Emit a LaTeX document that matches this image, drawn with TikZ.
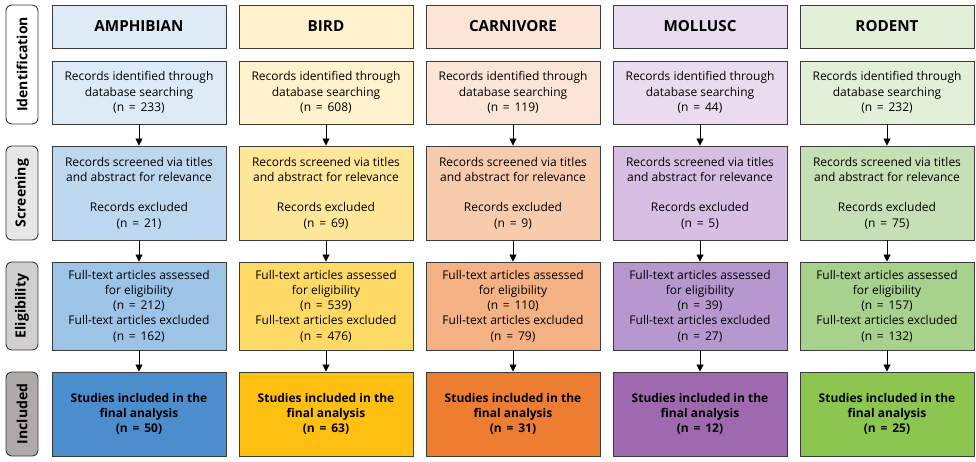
\documentclass[tikz,border=0pt]{standalone}
\usepackage{fontspec}
\setmainfont{Open Sans}
\usetikzlibrary{arrows.meta}
\newcommand{\nis}[1]{(n\hspace{0.4em}=\hspace{0.4em}#1)}
\definecolor{bordc}{HTML}{3A3A3A}
\definecolor{cA1}{HTML}{DDEBF7}\definecolor{cA2}{HTML}{BDD7EE}\definecolor{cA3}{HTML}{9DC3E6}\definecolor{cA4}{HTML}{4C8DCE}
\definecolor{cB1}{HTML}{FFF2CC}\definecolor{cB2}{HTML}{FFE699}\definecolor{cB3}{HTML}{FFD966}\definecolor{cB4}{HTML}{FDC010}
\definecolor{cC1}{HTML}{FBE5D6}\definecolor{cC2}{HTML}{F8CBAD}\definecolor{cC3}{HTML}{F4B183}\definecolor{cC4}{HTML}{ED7D31}
\definecolor{cD1}{HTML}{E9DCEF}\definecolor{cD2}{HTML}{D7BFE3}\definecolor{cD3}{HTML}{B698CE}\definecolor{cD4}{HTML}{9E69AE}
\definecolor{cE1}{HTML}{E2F0D9}\definecolor{cE2}{HTML}{C5E0B4}\definecolor{cE3}{HTML}{A9D18E}\definecolor{cE4}{HTML}{8DC551}
\definecolor{sd2}{HTML}{E7E6E6}\definecolor{sd3}{HTML}{D0CECE}\definecolor{sd4}{HTML}{AEAAAA}
\tikzset{
  box/.style={draw=bordc, line width=0.9pt, minimum width=174pt, inner sep=0pt, align=center, font=\fontsize{12}{15.3}\selectfont},
  hdr/.style={box, minimum height=43pt, font=\fontsize{15.2}{17}\selectfont\bfseries},
  incbox/.style={box, minimum height=84pt, font=\fontsize{12}{15.3}\selectfont\bfseries},
  side/.style={draw=bordc, line width=0.9pt, rounded corners=6pt, minimum height=32pt, inner sep=0pt, font=\fontsize{14}{16}\selectfont\bfseries, rotate=90},
  arr/.style={-{Triangle[length=7pt,width=7pt]}, line width=0.8pt, black}
}
\begin{document}
\begin{tikzpicture}[x=1pt,y=-1pt]
\useasboundingbox (0,0) rectangle (976,461);
% side labels
\node[side, fill=white, minimum width=119pt] (sid) at (22,64.5) {Identification};
\node[side, fill=sd2, minimum width=94pt] (sscr) at (22,193) {Screening};
\node[side, fill=sd3, minimum width=88pt] (selg) at (22,306) {Eligibility};
\node[side, fill=sd4, minimum width=84pt] (sinc) at (22,414) {Included};
\foreach \n/\x/\c/\name/\nid/\nex/\nel/\nfe/\nin in {
  1/139/A/AMPHIBIAN/233/21/212/162/50,
  2/326/B/BIRD/608/69/539/476/63,
  3/513/C/CARNIVORE/119/9/110/79/31,
  4/700/D/MOLLUSC/44/5/39/27/12,
  5/887/E/RODENT/232/75/157/132/25} {
  \node[hdr, fill=c\c1] (h\n) at (\x,26.5) {\name};
  \node[box, fill=c\c1, minimum height=63pt] (id\n) at (\x,92.5) {Records identified through\\database searching\\\nis{\nid}};
  \node[box, fill=c\c2, minimum height=94pt] (sc\n) at (\x,193) {Records screened via titles\\and abstract for relevance\\[15.3pt]Records excluded\\\nis{\nex}};
  \node[box, fill=c\c3, minimum height=88pt] (el\n) at (\x,306) {Full-text articles assessed\\for eligibility\\\nis{\nel}\\Full-text articles excluded\\\nis{\nfe}};
  \node[incbox, fill=c\c4] (in\n) at (\x,414) {Studies included in the\\final analysis\\\nis{\nin}};
  \draw[arr] (id\n) -- (sc\n);
  \draw[arr] (sc\n) -- (el\n);
  \draw[arr] (el\n) -- (in\n);
}
\end{tikzpicture}
\end{document}
